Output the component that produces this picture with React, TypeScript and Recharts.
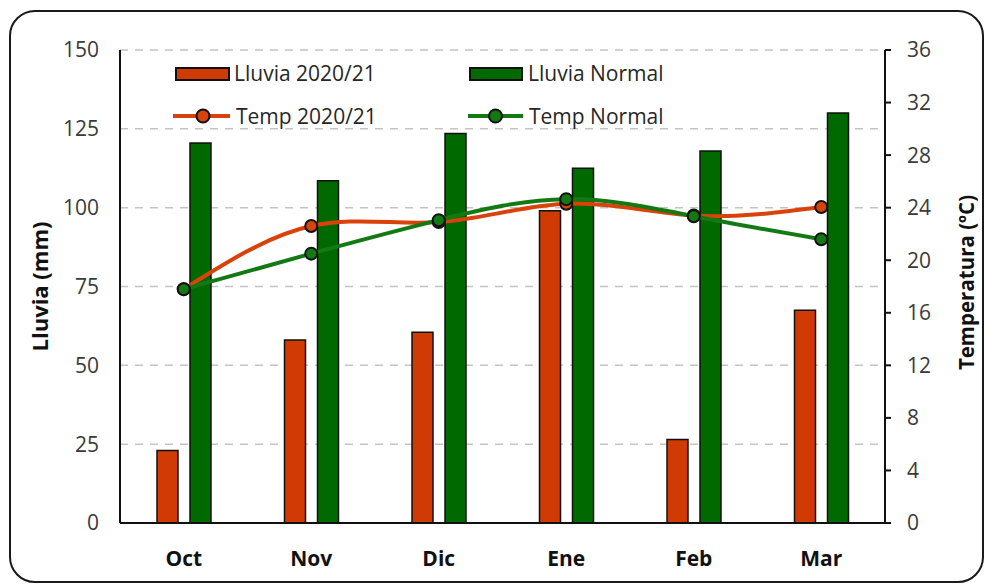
import React from 'react';
import { ComposedChart, Bar, Line, XAxis, YAxis, CartesianGrid, Legend } from 'recharts';

const months = ['Oct', 'Nov', 'Dic', 'Ene', 'Feb', 'Mar'];
const lluvia2021 = [23, 58, 60.5, 99, 26.5, 67.5];
const lluviaNormal = [120.5, 108.5, 123.5, 112.5, 118, 130];
const temp2021 = [17.8, 22.6, 22.9, 24.3, 23.4, 24.05];
const tempNormal = [17.8, 20.5, 23.05, 24.65, 23.35, 21.6];
const rainTicks = [0, 25, 50, 75, 100, 125, 150];
const tempTicks = [0, 4, 8, 12, 16, 20, 24, 28, 32, 36];

const RED_BAR = '#CF3A05';
const GREEN_BAR = '#006A00';
const RED_LINE = '#D9420B';
const GREEN_LINE = '#137A13';
const FONT = '"Open Sans", sans-serif';

const data = months.map((m, i) => ({
  month: m,
  lluvia2021: lluvia2021[i],
  lluviaNormal: lluviaNormal[i],
  temp2021: temp2021[i],
  tempNormal: tempNormal[i],
}));

const legendText: React.CSSProperties = {
  position: 'absolute',
  fontFamily: FONT,
  fontSize: 21,
  color: '#262626',
  lineHeight: '24px',
  whiteSpace: 'nowrap',
};

const LegendContent = () => (
  <div style={{ position: 'relative', width: 560, height: 80 }}>
    {/* row 1 */}
    <div style={{ position: 'absolute', left: 5, top: 11, width: 55, height: 14, background: RED_BAR, border: '2px solid #111', boxSizing: 'border-box' }} />
    <div style={{ ...legendText, left: 64, top: 5 }}>Lluvia 2020/21</div>
    <div style={{ position: 'absolute', left: 299, top: 11, width: 54, height: 14, background: GREEN_BAR, border: '2px solid #111', boxSizing: 'border-box' }} />
    <div style={{ ...legendText, left: 358, top: 5 }}>Lluvia Normal</div>
    {/* row 2 */}
    <svg style={{ position: 'absolute', left: 0, top: 50 }} width={64} height={20}>
      <line x1={3} y1={10} x2={60} y2={10} stroke={RED_LINE} strokeWidth={4} />
      <circle cx={33} cy={10} r={6.5} fill={RED_LINE} stroke="#111" strokeWidth={2} />
    </svg>
    <div style={{ ...legendText, left: 66, top: 48 }}>Temp 2020/21</div>
    <svg style={{ position: 'absolute', left: 295, top: 50 }} width={64} height={20}>
      <line x1={3} y1={10} x2={58} y2={10} stroke={GREEN_LINE} strokeWidth={4} />
      <circle cx={30.5} cy={10} r={6.5} fill={GREEN_LINE} stroke="#111" strokeWidth={2} />
    </svg>
    <div style={{ ...legendText, left: 359, top: 48 }}>Temp Normal</div>
  </div>
);

const LeftTitle = (props: any) => {
  const vb = props.viewBox || {};
  const cx = 39;
  const cy = (vb.y ?? 50) + (vb.height ?? 473) / 2;
  return (
    <text x={cx} y={cy} transform={`rotate(-90, ${cx}, ${cy})`} textAnchor="middle" dominantBaseline="central"
      fontFamily={FONT} fontSize={22} fontWeight="bold" fill="#111">Lluvia (mm)</text>
  );
};

const RightTitle = (props: any) => {
  const vb = props.viewBox || {};
  const cx = 966;
  const cy = (vb.y ?? 50) + (vb.height ?? 473) / 2 - 4;
  return (
    <text x={cx} y={cy} transform={`rotate(-90, ${cx}, ${cy})`} textAnchor="middle" dominantBaseline="central"
      fontFamily={FONT} fontSize={20.5} fontWeight="bold" fill="#111">Temperatura (ºC)</text>
  );
};

export default function App() {
  return (
    <div style={{ position: 'absolute', left: 0, top: 0, width: 986, height: 584, background: '#fff' }}>
      <div style={{ position: 'absolute', left: 9, top: 10, width: 975, height: 573, border: '2px solid #1a1a1a', borderRadius: 26, boxSizing: 'border-box' }} />
      <div style={{ position: 'absolute', left: 0, top: 0 }}>
        <ComposedChart width={986} height={584} data={data}
          margin={{ top: 50, right: 0, bottom: 11, left: 0 }} barGap={12}>
          <CartesianGrid yAxisId="left" vertical={false} stroke="#c4c4c4" strokeWidth={1.5} strokeDasharray="8 7" />
          <XAxis dataKey="month" height={50} axisLine={{ stroke: '#111', strokeWidth: 2 }} tickLine={false} tickSize={0} tickMargin={28}
            tick={{ fontFamily: FONT, fontSize: 21, fontWeight: 'bold', fill: '#111' }} />
          <YAxis yAxisId="left" orientation="left" width={120} domain={[0, 150]} ticks={rainTicks} interval={0}
            axisLine={{ stroke: '#111', strokeWidth: 2 }} tickLine={false} tickSize={0} tickMargin={21}
            tick={{ fontFamily: FONT, fontSize: 21, fill: '#3a3a3a' }} label={<LeftTitle />} />
          <YAxis yAxisId="right" orientation="right" width={101} domain={[0, 36]} ticks={tempTicks} interval={0}
            axisLine={{ stroke: '#111', strokeWidth: 2 }} tickLine={{ stroke: '#111', strokeWidth: 2 }} tickSize={6} tickMargin={16}
            tick={{ fontFamily: FONT, fontSize: 21, fill: '#3a3a3a' }} label={<RightTitle />} />
          <Legend layout="horizontal" verticalAlign="middle" align="center" content={<LegendContent />}
            wrapperStyle={{ left: 170, top: 56, width: 560, height: 80 }} />
          <Bar yAxisId="left" dataKey="lluvia2021" name="Lluvia 2020/21" fill={RED_BAR} stroke="#111" strokeWidth={1.5} barSize={21} isAnimationActive={false} />
          <Bar yAxisId="left" dataKey="lluviaNormal" name="Lluvia Normal" fill={GREEN_BAR} stroke="#111" strokeWidth={1.5} barSize={21} isAnimationActive={false} />
          <Line yAxisId="right" type="natural" dataKey="temp2021" name="Temp 2020/21" stroke={RED_LINE} strokeWidth={4}
            dot={{ r: 6, fill: RED_LINE, stroke: '#111', strokeWidth: 2 }} isAnimationActive={false} />
          <Line yAxisId="right" type="natural" dataKey="tempNormal" name="Temp Normal" stroke={GREEN_LINE} strokeWidth={4}
            dot={{ r: 6, fill: GREEN_LINE, stroke: '#111', strokeWidth: 2 }} isAnimationActive={false} />
        </ComposedChart>
      </div>
    </div>
  );
}
